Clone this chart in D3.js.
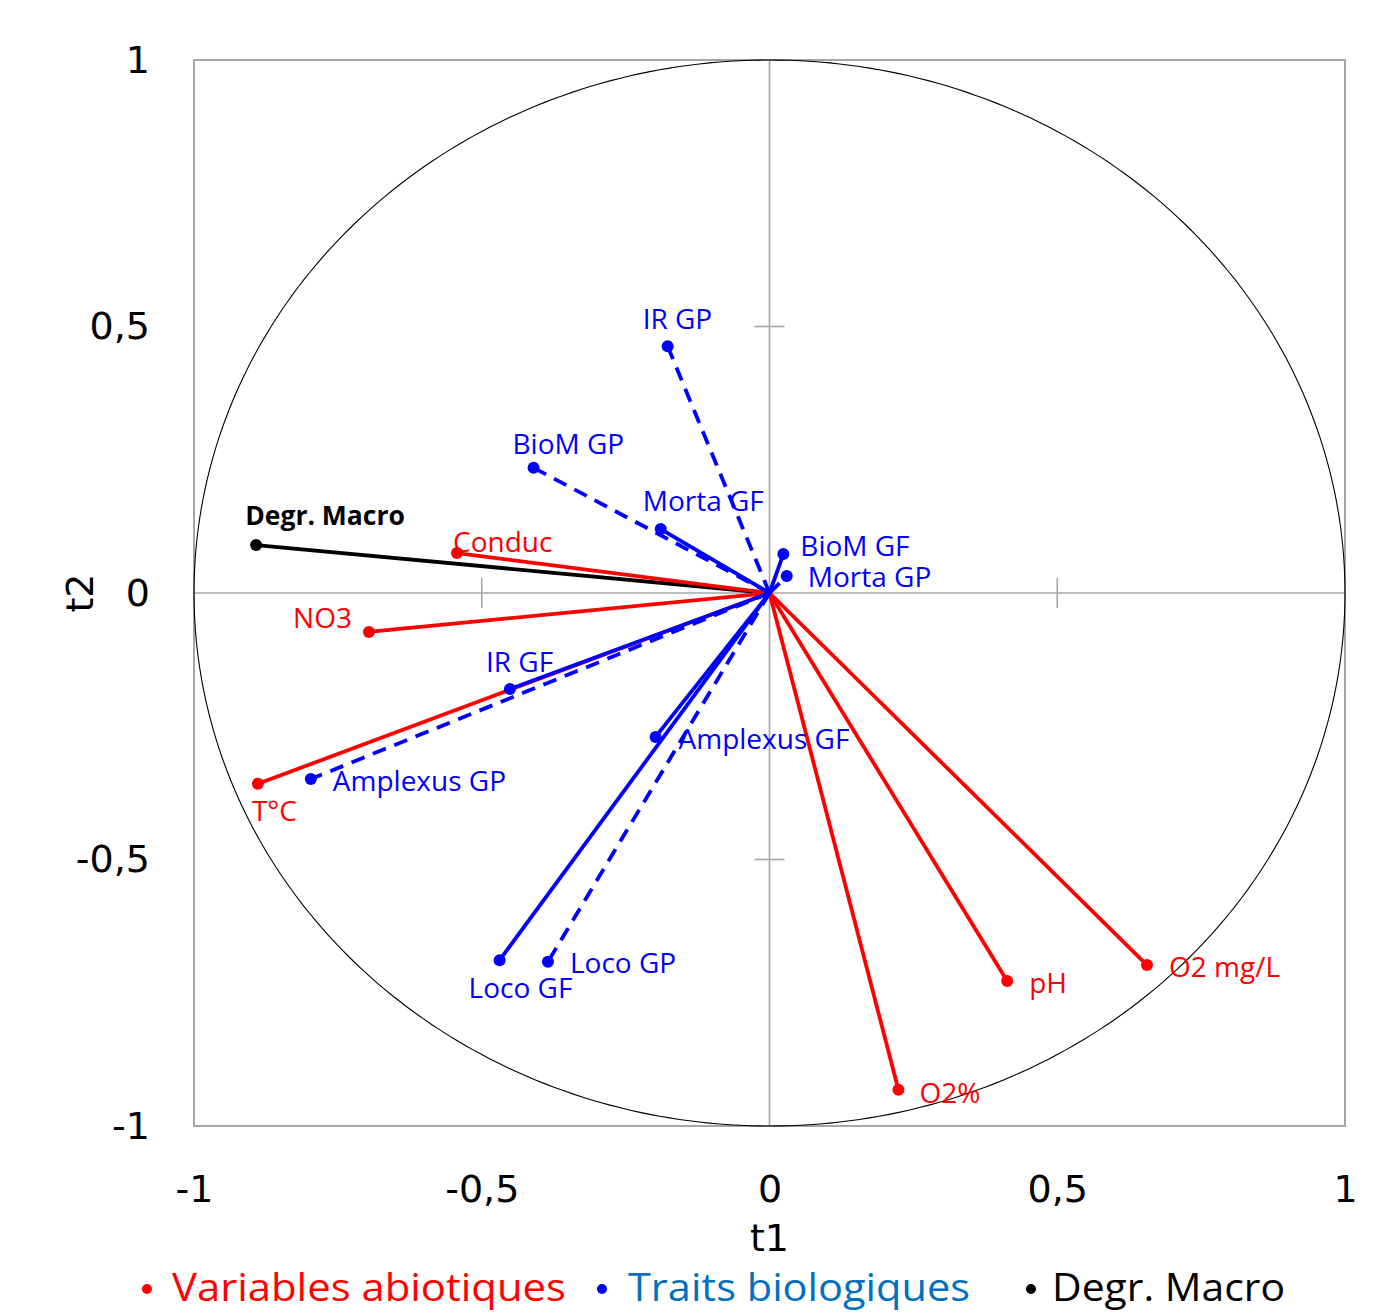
<!DOCTYPE html>
<html>
<head>
<meta charset="utf-8">
<script src="https://cdn.jsdelivr.net/npm/d3@7"></script>
<style>
  html, body { margin: 0; padding: 0; background: #fff; }
  svg { display: block; }
</style>
</head>
<body>
<svg id="chart" width="1386" height="1313"></svg>
<script>
// ---------- DATA ----------
const abioticNames = ["Conduc", "NO3", "T°C", "O2%", "pH", "O2 mg/L"];
const abioticT1    = [-0.543, -0.696, -0.889, 0.224, 0.413, 0.656];
const abioticT2    = [ 0.075, -0.073, -0.358, -0.932, -0.728, -0.698];

const traitNames = ["IR GP", "BioM GP", "Morta GF", "BioM GF", "Morta GP", "IR GF",
                    "Amplexus GP", "Amplexus GF", "Loco GF", "Loco GP"];
const traitT1    = [-0.177, -0.410, -0.189, 0.024, 0.030, -0.451, -0.797, -0.198, -0.469, -0.385];
const traitT2    = [ 0.463,  0.235,  0.120, 0.073, 0.032, -0.180, -0.349, -0.270, -0.689, -0.692];
const traitDashed = [true, true, false, false, true, false, true, false, false, true];

const degrNames = ["Degr. Macro"];
const degrT1    = [-0.892];
const degrT2    = [ 0.090];

const tickValues = [-1, -0.5, 0, 0.5, 1];
const legendLabels = ["Variables abiotiques", "Traits biologiques", "Degr. Macro"];

// ---------- LAYOUT / STYLE ----------
const W = 1386, H = 1313;
const plot = { left: 194, right: 1345, top: 60, bottom: 1126 };
const RED = "#FF0000", BLUE = "#0000FF", BLACK = "#000000";
const labelFont = "'Open Sans', sans-serif";
const axisFont = "'DejaVu Sans', sans-serif";

// label offsets (pixels) relative to the point: [dx, dy(center), anchor]
const labelPlace = {
  "Conduc": [-4, -11, "start"], "NO3": [-17, -14, "end"], "T°C": [-6, 27, "start"],
  "O2%": [21, 3, "start"], "pH": [22, 2, "start"], "O2 mg/L": [22, 2, "start"],
  "IR GP": [-25, -27, "start"], "BioM GP": [-21, -24, "start"], "Morta GF": [-18, -28, "start"],
  "BioM GF": [17, -8, "start"], "Morta GP": [21, 1, "start"], "IR GF": [-24, -27, "start"],
  "Amplexus GP": [22, 2, "start"], "Amplexus GF": [23, 2, "start"], "Loco GF": [-31, 28, "start"],
  "Loco GP": [22, 1, "start"], "Degr. Macro": [-11, -30, "start"]
};

const svg = d3.select("#chart");
const x = d3.scaleLinear().domain([-1, 1]).range([plot.left, plot.right]);
const y = d3.scaleLinear().domain([-1, 1]).range([plot.bottom, plot.top]);
const fmt = d => String(d).replace(".", ",");

// frame
svg.append("rect")
  .attr("x", plot.left).attr("y", plot.top)
  .attr("width", plot.right - plot.left).attr("height", plot.bottom - plot.top)
  .attr("fill", "none").attr("stroke", "#A6A6A6").attr("stroke-width", 2);

// zero axes
svg.append("line").attr("x1", x(-1)).attr("x2", x(1)).attr("y1", y(0)).attr("y2", y(0))
  .attr("stroke", "#A6A6A6").attr("stroke-width", 1.6);
svg.append("line").attr("x1", x(0)).attr("x2", x(0)).attr("y1", y(-1)).attr("y2", y(1))
  .attr("stroke", "#A6A6A6").attr("stroke-width", 1.6);

// cross ticks on zero axes
[-0.5, 0.5].forEach(v => {
  svg.append("line").attr("x1", x(v)).attr("x2", x(v)).attr("y1", y(0) - 15).attr("y2", y(0) + 15)
    .attr("stroke", "#A6A6A6").attr("stroke-width", 1.6);
  svg.append("line").attr("x1", x(0) - 15).attr("x2", x(0) + 15).attr("y1", y(v)).attr("y2", y(v))
    .attr("stroke", "#A6A6A6").attr("stroke-width", 1.6);
});

// correlation circle
const circ = d3.range(0, 361, 1).map(a => [Math.cos(a * Math.PI / 180), Math.sin(a * Math.PI / 180)]);
svg.append("path")
  .attr("d", d3.line().x(d => x(d[0])).y(d => y(d[1]))(circ))
  .attr("fill", "none").attr("stroke", "#000").attr("stroke-width", 1.1);

// axes tick labels
const yAxis = svg.append("g").attr("transform", `translate(${plot.left},0)`)
  .call(d3.axisLeft(y).tickValues(tickValues).tickSize(0).tickPadding(44).tickFormat(fmt));
const xAxis = svg.append("g").attr("transform", `translate(0,${plot.bottom})`)
  .call(d3.axisBottom(x).tickValues(tickValues).tickSize(0).tickPadding(49).tickFormat(fmt));
[yAxis, xAxis].forEach(g => {
  g.select(".domain").remove();
  g.selectAll("text").attr("font-family", axisFont).attr("font-size", 38).attr("fill", "#000");
});

// axis titles
svg.append("text").attr("x", x(0)).attr("y", 1251).attr("text-anchor", "middle")
  .attr("font-family", axisFont).attr("font-size", 38).text("t1");
svg.append("text").attr("transform", `translate(93,${y(0)}) rotate(-90)`).attr("text-anchor", "middle")
  .attr("font-family", axisFont).attr("font-size", 38).text("t2");

// vectors
function drawGroup(names, t1, t2, color, dashed, bold) {
  const g = svg.append("g");
  names.forEach((n, i) => {
    g.append("line")
      .attr("x1", x(0)).attr("y1", y(0)).attr("x2", x(t1[i])).attr("y2", y(t2[i]))
      .attr("stroke", color).attr("stroke-width", 3.8)
      .attr("stroke-dasharray", dashed && dashed[i] ? "14,9" : null);
  });
  names.forEach((n, i) => {
    g.append("circle").attr("cx", x(t1[i])).attr("cy", y(t2[i])).attr("r", 6).attr("fill", color);
    const p = labelPlace[n];
    g.append("text")
      .attr("x", x(t1[i]) + p[0]).attr("y", y(t2[i]) + p[1]).attr("dy", "0.36em")
      .attr("text-anchor", p[2])
      .attr("font-family", labelFont).attr("font-size", bold ? 26.5 : 28)
      .attr("font-weight", bold ? "bold" : "normal")
      .attr("fill", color).text(n);
  });
}
drawGroup(degrNames, degrT1, degrT2, BLACK, null, true);
drawGroup(abioticNames, abioticT1, abioticT2, RED, null, false);
drawGroup(traitNames, traitT1, traitT2, BLUE, traitDashed, false);

// legend
const legendColors = [RED, "#0070C0", BLACK];
const bulletColors = [RED, BLUE, BLACK];
const legendX = [147, 602, 1031];
const legendTextX = [172, 628, 1052];
const legendW = [394, 342, 233];
legendLabels.forEach((l, i) => {
  svg.append("circle").attr("cx", legendX[i]).attr("cy", 1289).attr("r", 5).attr("fill", bulletColors[i]);
  svg.append("text").attr("x", legendTextX[i]).attr("y", 1301)
    .attr("font-family", labelFont).attr("font-size", 39)
    .attr("textLength", legendW[i]).attr("lengthAdjust", "spacingAndGlyphs")
    .attr("fill", legendColors[i]).text(l);
});
</script>
</body>
</html>
